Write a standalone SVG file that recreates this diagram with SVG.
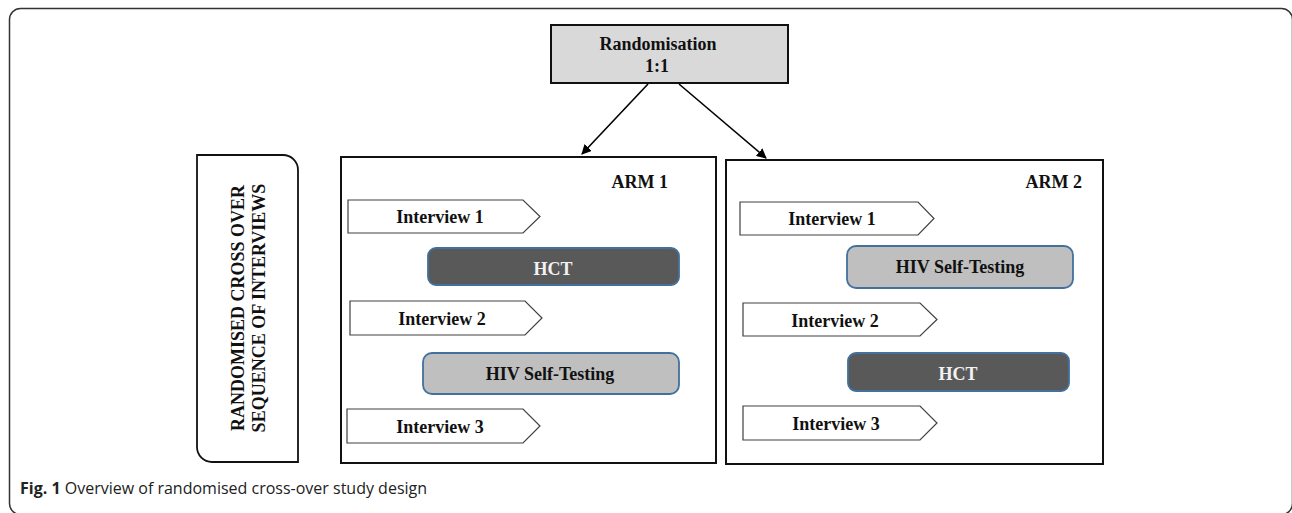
<svg xmlns="http://www.w3.org/2000/svg" width="1292" height="513" viewBox="0 0 1292 513">
<defs>
<marker id="ah" viewBox="0 0 10 10" refX="9" refY="5" markerWidth="10" markerHeight="10" markerUnits="userSpaceOnUse" orient="auto">
<path d="M0,0 L10,5 L0,10 Z" fill="#000"/>
</marker>
<style>
.t{font-family:"Liberation Serif","Times New Roman",serif;font-weight:bold;font-size:18px;fill:#111;}
.iv{fill:#fff;stroke:#404040;stroke-width:1.2;}
.hct{fill:#595959;stroke:#41719c;stroke-width:1.8;}
.hst{fill:#bfbfbf;stroke:#41719c;stroke-width:1.8;}
.arm{fill:#fff;stroke:#111;stroke-width:2;}
.conn{stroke:#000;stroke-width:1.6;fill:none;}
</style>
</defs>
<rect width="1292" height="513" fill="#fff"/>
<rect x="9.5" y="8.5" width="1283" height="506" rx="11" fill="none" stroke="#333" stroke-width="1.5"/>

<g id="randomisation">
<rect x="551" y="25" width="237" height="58" fill="#d9d9d9" stroke="#111" stroke-width="2"/>
<text class="t" x="658" y="50" text-anchor="middle">Randomisation</text>
<text class="t" x="657" y="72" text-anchor="middle">1:1</text>
</g>

<g id="side-label">
<path d="M197,155 H283 A15,15 0 0 1 298,170 V462 H212 A15,15 0 0 1 197,447 Z" fill="#fff" stroke="#111" stroke-width="1.8"/>
<text class="t" transform="translate(243.5,308) rotate(-90)" text-anchor="middle">RANDOMISED CROSS OVER</text>
<text class="t" transform="translate(265,308) rotate(-90)" text-anchor="middle">SEQUENCE OF INTERVIEWS</text>
</g>

<g id="arm1">
<rect class="arm" x="341" y="157" width="375" height="306"/>
<text class="t" x="668" y="188" text-anchor="end">ARM 1</text>
<g id="arm1-interview1">
<path class="iv" d="M348,200 H523 L540,216.5 L523,233 H348 Z"/>
<text class="t" x="440" y="223" text-anchor="middle">Interview 1</text>
</g>
<g id="arm1-hct">
<rect class="hct" x="428" y="248" width="251" height="37" rx="8"/>
<text class="t" x="553" y="275" text-anchor="middle" style="fill:#f2f2f2">HCT</text>
</g>
<g id="arm1-interview2">
<path class="iv" d="M350,301 H525 L542,318 L525,335 H350 Z"/>
<text class="t" x="442" y="325" text-anchor="middle">Interview 2</text>
</g>
<g id="arm1-hivst">
<rect class="hst" x="423" y="353" width="256" height="41" rx="9"/>
<text class="t" x="550" y="380" text-anchor="middle">HIV Self-Testing</text>
</g>
<g id="arm1-interview3">
<path class="iv" d="M347,409 H523 L540,426 L523,443 H347 Z"/>
<text class="t" x="440" y="433" text-anchor="middle">Interview 3</text>
</g>
</g>

<g id="arm2">
<rect class="arm" x="726" y="160" width="377" height="304"/>
<text class="t" x="1082" y="188" text-anchor="end">ARM 2</text>
<g id="arm2-interview1">
<path class="iv" d="M740,202 H918 L934,218.5 L918,235 H740 Z"/>
<text class="t" x="832" y="225" text-anchor="middle">Interview 1</text>
</g>
<g id="arm2-hivst">
<rect class="hst" x="847" y="246" width="226" height="42" rx="9"/>
<text class="t" x="960" y="273" text-anchor="middle">HIV Self-Testing</text>
</g>
<g id="arm2-interview2">
<path class="iv" d="M743,303 H920 L937,319.5 L920,336 H743 Z"/>
<text class="t" x="835" y="327" text-anchor="middle">Interview 2</text>
</g>
<g id="arm2-hct">
<rect class="hct" x="848" y="353" width="221" height="38" rx="8"/>
<text class="t" x="958" y="380" text-anchor="middle" style="fill:#f2f2f2">HCT</text>
</g>
<g id="arm2-interview3">
<path class="iv" d="M743,406 H920 L937,423 L920,440 H743 Z"/>
<text class="t" x="836" y="430" text-anchor="middle">Interview 3</text>
</g>
</g>

<g id="connectors">
<line class="conn" x1="648" y1="84" x2="582" y2="154" marker-end="url(#ah)"/>
<line class="conn" x1="679" y1="84" x2="766" y2="158" marker-end="url(#ah)"/>
</g>

<text x="20" y="494" font-family="'Open Sans','Noto Sans',sans-serif" font-size="16" fill="#222"><tspan font-weight="bold">Fig. 1</tspan> Overview of randomised cross-over study design</text>
</svg>
